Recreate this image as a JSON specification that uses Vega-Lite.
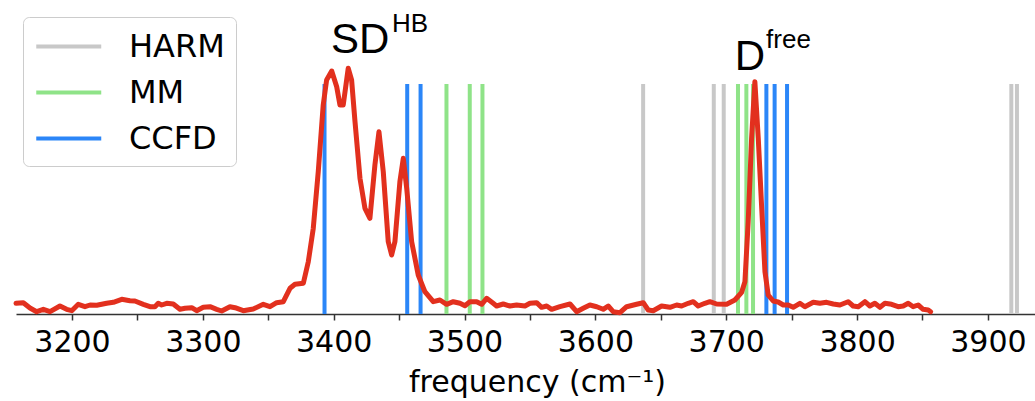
{
  "$schema": "https://vega.github.io/schema/vega-lite/v6.json",
  "autosize": {"type": "none"},
  "width": 1019,
  "height": 314,
  "padding": {"left": 16, "top": 0, "right": 0, "bottom": 87},
  "background": "white",
  "config": {"view": {"stroke": null}},
  "datasets": {
    "spec": [
      {"f":3157.2,"i":0.107},{"f":3162.8,"i":0.113},{"f":3167.9,"i":0.06},{"f":3173.0,"i":0.023},{"f":3178.1,"i":0.047},{"f":3183.2,"i":0.023},{"f":3190.8,"i":0.08},{"f":3195.9,"i":0.047},{"f":3199.8,"i":0.033},{"f":3204.8,"i":0.097},{"f":3209.9,"i":0.073},{"f":3213.8,"i":0.09},{"f":3218.9,"i":0.087},{"f":3226.5,"i":0.107},{"f":3231.6,"i":0.117},{"f":3238.0,"i":0.147},{"f":3244.3,"i":0.133},{"f":3248.1,"i":0.13},{"f":3254.5,"i":0.097},{"f":3259.6,"i":0.073},{"f":3263.4,"i":0.073},{"f":3265.9,"i":0.107},{"f":3268.5,"i":0.09},{"f":3272.4,"i":0.107},{"f":3277.4,"i":0.1},{"f":3282.5,"i":0.047},{"f":3286.4,"i":0.057},{"f":3291.5,"i":0.063},{"f":3295.3,"i":0.033},{"f":3300.3,"i":0.067},{"f":3305.5,"i":0.073},{"f":3310.6,"i":0.047},{"f":3314.4,"i":0.03},{"f":3320.7,"i":0.073},{"f":3324.6,"i":0.063},{"f":3330.9,"i":0.033},{"f":3338.5,"i":0.05},{"f":3346.2,"i":0.097},{"f":3351.3,"i":0.073},{"f":3356.4,"i":0.113},{"f":3361.5,"i":0.123},{"f":3366.6,"i":0.257},{"f":3370.4,"i":0.297},{"f":3376.8,"i":0.307},{"f":3380.6,"i":0.523},{"f":3384.4,"i":0.857},{"f":3388.2,"i":1.423},{"f":3392.0,"i":2.09},{"f":3394.6,"i":2.34},{"f":3398.5,"i":2.43},{"f":3402.3,"i":2.273},{"f":3404.8,"i":2.09},{"f":3407.3,"i":2.09},{"f":3411.1,"i":2.457},{"f":3413.7,"i":2.34},{"f":3416.3,"i":1.923},{"f":3420.1,"i":1.357},{"f":3423.9,"i":1.057},{"f":3427.7,"i":0.957},{"f":3431.5,"i":1.49},{"f":3434.6,"i":1.823},{"f":3437.9,"i":1.423},{"f":3441.7,"i":0.723},{"f":3444.3,"i":0.59},{"f":3446.8,"i":0.723},{"f":3450.6,"i":1.323},{"f":3453.2,"i":1.557},{"f":3455.8,"i":1.257},{"f":3459.6,"i":0.723},{"f":3464.6,"i":0.39},{"f":3469.7,"i":0.223},{"f":3476.1,"i":0.123},{"f":3481.2,"i":0.14},{"f":3486.3,"i":0.097},{"f":3491.4,"i":0.123},{"f":3496.5,"i":0.107},{"f":3500.3,"i":0.083},{"f":3504.1,"i":0.123},{"f":3509.3,"i":0.123},{"f":3513.1,"i":0.097},{"f":3516.9,"i":0.157},{"f":3521.9,"i":0.107},{"f":3524.5,"i":0.08},{"f":3529.6,"i":0.1},{"f":3534.7,"i":0.08},{"f":3539.8,"i":0.09},{"f":3546.2,"i":0.08},{"f":3550.0,"i":0.107},{"f":3555.1,"i":0.113},{"f":3558.9,"i":0.067},{"f":3562.8,"i":0.08},{"f":3566.6,"i":0.047},{"f":3572.9,"i":0.073},{"f":3580.6,"i":0.1},{"f":3585.7,"i":0.023},{"f":3590.7,"i":0.057},{"f":3595.8,"i":0.09},{"f":3601.0,"i":0.073},{"f":3606.0,"i":0.047},{"f":3609.8,"i":0.08},{"f":3613.6,"i":0.023},{"f":3618.8,"i":0.013},{"f":3623.9,"i":0.073},{"f":3631.5,"i":0.097},{"f":3636.6,"i":0.113},{"f":3640.4,"i":0.04},{"f":3644.2,"i":0.033},{"f":3650.6,"i":0.08},{"f":3657.0,"i":0.067},{"f":3662.1,"i":0.09},{"f":3665.9,"i":0.08},{"f":3671.0,"i":0.107},{"f":3674.8,"i":0.123},{"f":3678.6,"i":0.08},{"f":3683.7,"i":0.107},{"f":3687.5,"i":0.123},{"f":3692.7,"i":0.1},{"f":3700.3,"i":0.097},{"f":3706.6,"i":0.14},{"f":3711.8,"i":0.217},{"f":3714.3,"i":0.323},{"f":3716.8,"i":0.923},{"f":3719.4,"i":1.757},{"f":3721.9,"i":2.323},{"f":3724.5,"i":1.757},{"f":3727.0,"i":1.09},{"f":3729.6,"i":0.423},{"f":3732.1,"i":0.19},{"f":3735.9,"i":0.13},{"f":3739.7,"i":0.12},{"f":3743.6,"i":0.09},{"f":3747.4,"i":0.09},{"f":3751.2,"i":0.067},{"f":3756.3,"i":0.107},{"f":3760.1,"i":0.073},{"f":3766.5,"i":0.117},{"f":3771.6,"i":0.107},{"f":3776.7,"i":0.117},{"f":3781.8,"i":0.1},{"f":3786.9,"i":0.09},{"f":3793.2,"i":0.123},{"f":3797.0,"i":0.08},{"f":3800.9,"i":0.073},{"f":3806.0,"i":0.123},{"f":3809.8,"i":0.08},{"f":3813.6,"i":0.107},{"f":3817.5,"i":0.067},{"f":3821.3,"i":0.107},{"f":3826.4,"i":0.097},{"f":3831.4,"i":0.073},{"f":3835.3,"i":0.08},{"f":3839.1,"i":0.107},{"f":3842.9,"i":0.073},{"f":3846.7,"i":0.09},{"f":3850.5,"i":0.047},{"f":3854.4,"i":0.04},{"f":3856.2,"i":0.023}
    ],
    "vlines": [
      {"f":3636.5,"method":"HARM"},{"f":3690.5,"method":"HARM"},{"f":3698.1,"method":"HARM"},{"f":3917.9,"method":"HARM"},{"f":3922.2,"method":"HARM"},
      {"f":3486.2,"method":"MM"},{"f":3504.0,"method":"MM"},{"f":3513.7,"method":"MM"},{"f":3709.0,"method":"MM"},{"f":3715.4,"method":"MM"},{"f":3720.5,"method":"MM"},
      {"f":3393.0,"method":"CCFD"},{"f":3456.2,"method":"CCFD"},{"f":3466.4,"method":"CCFD"},{"f":3730.7,"method":"CCFD"},{"f":3737.0,"method":"CCFD"},{"f":3746.5,"method":"CCFD"}
    ],
    "ann": [
      {"label":"SD","f":3398,"i":2.61,"role":"main"},
      {"label":"HB","f":3444.5,"i":2.82,"role":"sup"},
      {"label":"D","f":3706.5,"i":2.44,"role":"main"},
      {"label":"free","f":3730.5,"i":2.66,"role":"sup"}
    ]
  },
  "encoding": {
    "x": {
      "field": "f",
      "type": "quantitative",
      "scale": {"domain": [3157.2, 3936], "nice": false, "zero": false},
      "axis": {
        "title": "frequency (cm⁻¹)",
        "titleFont": "DejaVu Sans",
        "titleFontSize": 30,
        "titleFontWeight": "normal",
        "titleColor": "black",
        "titleX": 521,
        "titleY": 77,
        "titleBaseline": "alphabetic",
        "titleAlign": "center",
        "values": [3200,3250,3300,3350,3400,3450,3500,3550,3600,3650,3700,3750,3800,3850,3900],
        "labelExpr": "datum.value % 100 === 0 ? datum.label : ''",
        "format": "d",
        "labelFont": "DejaVu Sans",
        "labelFontSize": 30,
        "labelColor": "black",
        "labelPadding": 7,
        "labelFlush": false,
        "labelOverlap": false,
        "grid": false,
        "domainColor": "#333333",
        "domainWidth": 1.5,
        "tickColor": "#333333",
        "tickWidth": 1.5,
        "tickSize": 6
      }
    }
  },
  "layer": [
    {
      "data": {"name": "vlines"},
      "mark": {"type": "rule", "strokeWidth": 4},
      "encoding": {
        "y": {"datum": 0, "type": "quantitative", "scale": {"domain": [0, 3.14], "nice": false, "zero": true}, "axis": null},
        "y2": {"datum": 2.3},
        "color": {
          "field": "method",
          "type": "nominal",
          "scale": {"domain": ["HARM", "MM", "CCFD"], "range": ["#c8c8c8", "#8fe388", "#2b86f8"]},
          "legend": {
            "orient": "none",
            "legendX": 7,
            "legendY": 17,
            "title": null,
            "symbolType": "M-1,0H3",
            "symbolSize": 1056,
            "symbolStrokeWidth": 4,
            "symbolOpacity": 1,
            "labelFont": "DejaVu Sans",
            "labelFontSize": 32,
            "labelColor": "black",
            "labelOffset": 58,
            "padding": 11,
            "rowPadding": 11,
            "strokeColor": "#cccccc",
            "fillColor": "white",
            "cornerRadius": 6
          }
        }
      }
    },
    {
      "data": {"name": "spec"},
      "mark": {"type": "line", "color": "#e2301e", "strokeWidth": 5, "strokeJoin": "round", "strokeCap": "round"},
      "encoding": {
        "y": {"field": "i", "type": "quantitative", "axis": null}
      }
    },
    {
      "data": {"name": "ann"},
      "transform": [{"filter": "datum.role === 'main'"}],
      "mark": {"type": "text", "font": "Liberation Sans", "fontSize": 42, "align": "left", "baseline": "alphabetic", "color": "black"},
      "encoding": {
        "y": {"field": "i", "type": "quantitative", "axis": null},
        "text": {"field": "label"}
      }
    },
    {
      "data": {"name": "ann"},
      "transform": [{"filter": "datum.role === 'sup'"}],
      "mark": {"type": "text", "font": "Liberation Sans", "fontSize": 26, "align": "left", "baseline": "alphabetic", "color": "black"},
      "encoding": {
        "y": {"field": "i", "type": "quantitative", "axis": null},
        "text": {"field": "label"}
      }
    }
  ]
}
